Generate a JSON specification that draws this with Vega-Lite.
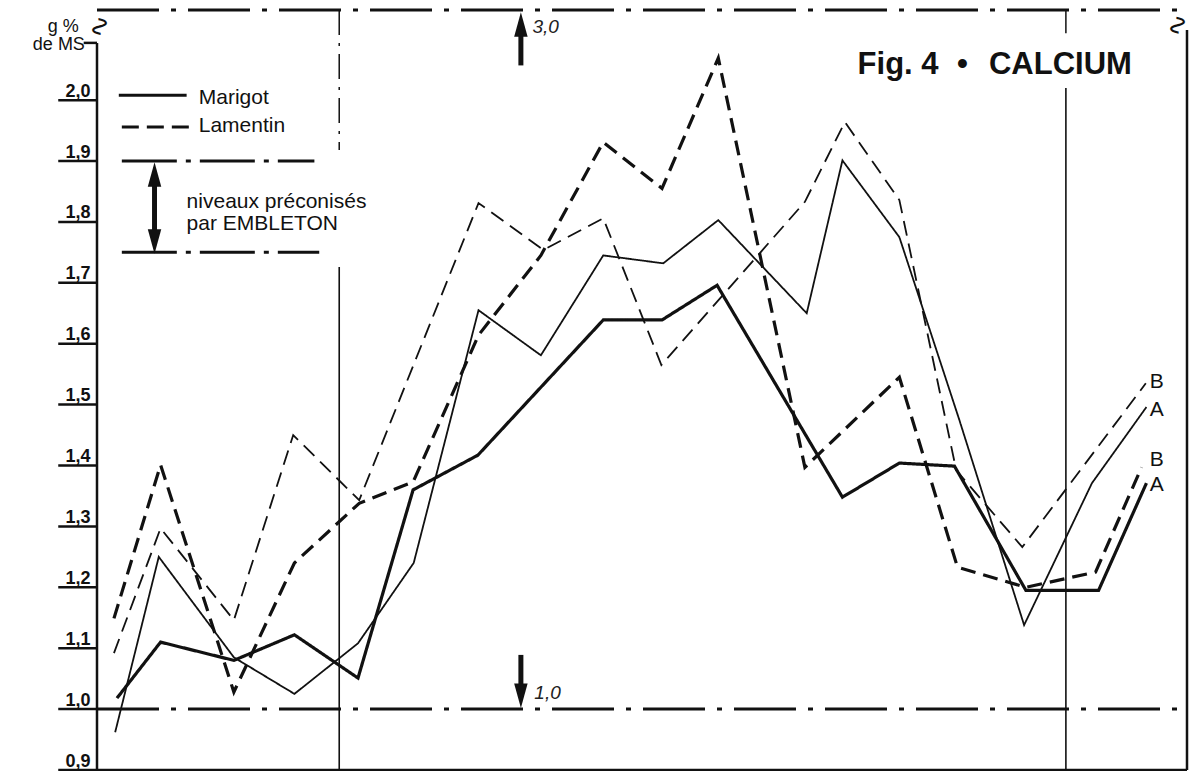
{
  "$schema": "https://vega.github.io/schema/vega-lite/v6.json",
  "width": 1090,
  "height": 760,
  "autosize": {"type": "none"},
  "padding": {"left": 97, "top": 10, "right": 5, "bottom": 1},
  "background": "white",
  "config": {"view": {"stroke": null}},
  "datasets": {
    "series": [
      {"serie": "Marigot épais", "site": "Marigot", "trait": "épais", "mois": -3.67, "valeur": 1.018},
      {"serie": "Marigot épais", "site": "Marigot", "trait": "épais", "mois": -2.95, "valeur": 1.110},
      {"serie": "Marigot épais", "site": "Marigot", "trait": "épais", "mois": -1.74, "valeur": 1.080},
      {"serie": "Marigot épais", "site": "Marigot", "trait": "épais", "mois": -0.74, "valeur": 1.122},
      {"serie": "Marigot épais", "site": "Marigot", "trait": "épais", "mois": 0.31, "valeur": 1.051},
      {"serie": "Marigot épais", "site": "Marigot", "trait": "épais", "mois": 1.22, "valeur": 1.360},
      {"serie": "Marigot épais", "site": "Marigot", "trait": "épais", "mois": 2.29, "valeur": 1.417},
      {"serie": "Marigot épais", "site": "Marigot", "trait": "épais", "mois": 4.36, "valeur": 1.639},
      {"serie": "Marigot épais", "site": "Marigot", "trait": "épais", "mois": 5.33, "valeur": 1.639},
      {"serie": "Marigot épais", "site": "Marigot", "trait": "épais", "mois": 6.24, "valeur": 1.696},
      {"serie": "Marigot épais", "site": "Marigot", "trait": "épais", "mois": 8.31, "valeur": 1.348},
      {"serie": "Marigot épais", "site": "Marigot", "trait": "épais", "mois": 9.25, "valeur": 1.404},
      {"serie": "Marigot épais", "site": "Marigot", "trait": "épais", "mois": 10.16, "valeur": 1.399},
      {"serie": "Marigot épais", "site": "Marigot", "trait": "épais", "mois": 11.34, "valeur": 1.195},
      {"serie": "Marigot épais", "site": "Marigot", "trait": "épais", "mois": 12.54, "valeur": 1.195},
      {"serie": "Marigot épais", "site": "Marigot", "trait": "épais", "mois": 13.33, "valeur": 1.371},

      {"serie": "Marigot fin", "site": "Marigot", "trait": "fin", "mois": -3.70, "valeur": 0.962},
      {"serie": "Marigot fin", "site": "Marigot", "trait": "fin", "mois": -2.98, "valeur": 1.250},
      {"serie": "Marigot fin", "site": "Marigot", "trait": "fin", "mois": -1.74, "valeur": 1.085},
      {"serie": "Marigot fin", "site": "Marigot", "trait": "fin", "mois": -0.74, "valeur": 1.025},
      {"serie": "Marigot fin", "site": "Marigot", "trait": "fin", "mois": 0.31, "valeur": 1.108},
      {"serie": "Marigot fin", "site": "Marigot", "trait": "fin", "mois": 1.23, "valeur": 1.240},
      {"serie": "Marigot fin", "site": "Marigot", "trait": "fin", "mois": 2.30, "valeur": 1.655},
      {"serie": "Marigot fin", "site": "Marigot", "trait": "fin", "mois": 3.33, "valeur": 1.581},
      {"serie": "Marigot fin", "site": "Marigot", "trait": "fin", "mois": 4.36, "valeur": 1.745},
      {"serie": "Marigot fin", "site": "Marigot", "trait": "fin", "mois": 5.35, "valeur": 1.732},
      {"serie": "Marigot fin", "site": "Marigot", "trait": "fin", "mois": 6.26, "valeur": 1.803},
      {"serie": "Marigot fin", "site": "Marigot", "trait": "fin", "mois": 7.72, "valeur": 1.650},
      {"serie": "Marigot fin", "site": "Marigot", "trait": "fin", "mois": 8.31, "valeur": 1.901},
      {"serie": "Marigot fin", "site": "Marigot", "trait": "fin", "mois": 9.25, "valeur": 1.775},
      {"serie": "Marigot fin", "site": "Marigot", "trait": "fin", "mois": 10.24, "valeur": 1.475},
      {"serie": "Marigot fin", "site": "Marigot", "trait": "fin", "mois": 11.31, "valeur": 1.138},
      {"serie": "Marigot fin", "site": "Marigot", "trait": "fin", "mois": 12.43, "valeur": 1.371},
      {"serie": "Marigot fin", "site": "Marigot", "trait": "fin", "mois": 13.33, "valeur": 1.496},

      {"serie": "Lamentin épais", "site": "Lamentin", "trait": "épais", "mois": -3.72, "valeur": 1.149},
      {"serie": "Lamentin épais", "site": "Lamentin", "trait": "épais", "mois": -2.95, "valeur": 1.401},
      {"serie": "Lamentin épais", "site": "Lamentin", "trait": "épais", "mois": -1.74, "valeur": 1.028},
      {"serie": "Lamentin épais", "site": "Lamentin", "trait": "épais", "mois": -0.74, "valeur": 1.240},
      {"serie": "Lamentin épais", "site": "Lamentin", "trait": "épais", "mois": 0.33, "valeur": 1.338},
      {"serie": "Lamentin épais", "site": "Lamentin", "trait": "épais", "mois": 1.22, "valeur": 1.373},
      {"serie": "Lamentin épais", "site": "Lamentin", "trait": "épais", "mois": 2.30, "valeur": 1.614},
      {"serie": "Lamentin épais", "site": "Lamentin", "trait": "épais", "mois": 3.33, "valeur": 1.745},
      {"serie": "Lamentin épais", "site": "Lamentin", "trait": "épais", "mois": 4.36, "valeur": 1.931},
      {"serie": "Lamentin épais", "site": "Lamentin", "trait": "épais", "mois": 5.33, "valeur": 1.855},
      {"serie": "Lamentin épais", "site": "Lamentin", "trait": "épais", "mois": 6.26, "valeur": 2.069},
      {"serie": "Lamentin épais", "site": "Lamentin", "trait": "épais", "mois": 7.69, "valeur": 1.397},
      {"serie": "Lamentin épais", "site": "Lamentin", "trait": "épais", "mois": 9.25, "valeur": 1.545},
      {"serie": "Lamentin épais", "site": "Lamentin", "trait": "épais", "mois": 10.21, "valeur": 1.233},
      {"serie": "Lamentin épais", "site": "Lamentin", "trait": "épais", "mois": 11.34, "valeur": 1.200},
      {"serie": "Lamentin épais", "site": "Lamentin", "trait": "épais", "mois": 12.49, "valeur": 1.225},
      {"serie": "Lamentin épais", "site": "Lamentin", "trait": "épais", "mois": 13.25, "valeur": 1.397},

      {"serie": "Lamentin fin", "site": "Lamentin", "trait": "fin", "mois": -3.72, "valeur": 1.092},
      {"serie": "Lamentin fin", "site": "Lamentin", "trait": "fin", "mois": -2.95, "valeur": 1.297},
      {"serie": "Lamentin fin", "site": "Lamentin", "trait": "fin", "mois": -1.74, "valeur": 1.146},
      {"serie": "Lamentin fin", "site": "Lamentin", "trait": "fin", "mois": -0.76, "valeur": 1.450},
      {"serie": "Lamentin fin", "site": "Lamentin", "trait": "fin", "mois": 0.33, "valeur": 1.343},
      {"serie": "Lamentin fin", "site": "Lamentin", "trait": "fin", "mois": 2.30, "valeur": 1.831},
      {"serie": "Lamentin fin", "site": "Lamentin", "trait": "fin", "mois": 3.37, "valeur": 1.754},
      {"serie": "Lamentin fin", "site": "Lamentin", "trait": "fin", "mois": 4.36, "valeur": 1.806},
      {"serie": "Lamentin fin", "site": "Lamentin", "trait": "fin", "mois": 5.32, "valeur": 1.565},
      {"serie": "Lamentin fin", "site": "Lamentin", "trait": "fin", "mois": 7.69, "valeur": 1.833},
      {"serie": "Lamentin fin", "site": "Lamentin", "trait": "fin", "mois": 8.35, "valeur": 1.964},
      {"serie": "Lamentin fin", "site": "Lamentin", "trait": "fin", "mois": 9.25, "valeur": 1.836},
      {"serie": "Lamentin fin", "site": "Lamentin", "trait": "fin", "mois": 10.19, "valeur": 1.392},
      {"serie": "Lamentin fin", "site": "Lamentin", "trait": "fin", "mois": 11.28, "valeur": 1.266},
      {"serie": "Lamentin fin", "site": "Lamentin", "trait": "fin", "mois": 13.32, "valeur": 1.535}
    ]
  },
  "encoding": {
    "x": {"field": "mois", "type": "quantitative", "scale": {"domain": [-4, 14], "nice": false, "zero": false}, "axis": null},
    "y": {
      "field": "valeur", "type": "quantitative",
      "scale": {"domain": [0.9, 2.148], "nice": false, "zero": false},
      "axis": {
        "values": [0.9, 1.0, 1.1, 1.2, 1.3, 1.4, 1.5, 1.6, 1.7, 1.8, 1.9, 2.0],
        "labelExpr": "replace(format(datum.value, '.1f'), '.', ',')",
        "title": null, "domain": false, "grid": false, "ticks": false,
        "labelAlign": "right", "labelBaseline": "alphabetic",
        "labelPadding": 7, "labelOffset": -4,
        "labelFont": "Liberation Sans", "labelFontSize": 18, "labelFontWeight": "bold",
        "labelColor": "#111", "labelBound": false, "labelFlush": false, "labelOverlap": false
      }
    }
  },
  "layer": [
    {
      "data": {"values": [
        {"valeur": 0.9, "mois": -4.64, "mois2": -4}, {"valeur": 1.0, "mois": -4.64, "mois2": -4},
        {"valeur": 1.1, "mois": -4.64, "mois2": -4}, {"valeur": 1.2, "mois": -4.64, "mois2": -4},
        {"valeur": 1.3, "mois": -4.64, "mois2": -4}, {"valeur": 1.4, "mois": -4.64, "mois2": -4},
        {"valeur": 1.5, "mois": -4.64, "mois2": -4}, {"valeur": 1.6, "mois": -4.64, "mois2": -4},
        {"valeur": 1.7, "mois": -4.64, "mois2": -4}, {"valeur": 1.8, "mois": -4.64, "mois2": -4},
        {"valeur": 1.9, "mois": -4.64, "mois2": -4}, {"valeur": 2.0, "mois": -4.64, "mois2": -4}
      ]},
      "mark": {"type": "rule", "strokeWidth": 2.5, "color": "#111"},
      "encoding": {"x2": {"field": "mois2"}}
    },
    {
      "data": {"values": [{"mois": -4, "mois2": 14, "valeur": 1.0}, {"mois": -4, "mois2": 14, "valeur": 2.148}]},
      "mark": {"type": "rule", "strokeDash": [62, 12, 5, 12], "strokeWidth": 3, "color": "#111"},
      "encoding": {"x2": {"field": "mois2"}}
    },
    {
      "data": {"values": [{"mois": -3.59, "mois2": -0.41, "valeur": 1.9}, {"mois": -3.59, "mois2": -0.33, "valeur": 1.75}]},
      "mark": {"type": "rule", "strokeDash": [55, 9, 5, 9], "strokeWidth": 3, "color": "#111"},
      "encoding": {"x2": {"field": "mois2"}}
    },
    {
      "data": {"values": [{"mois": 0, "valeur": 2.148, "valeur2": 1.918}, {"mois": 12, "valeur": 2.148, "valeur2": 2.11}]},
      "mark": {"type": "rule", "strokeDash": [25, 8, 3, 8], "strokeWidth": 1.5, "color": "#111"},
      "encoding": {"y2": {"field": "valeur2"}}
    },
    {
      "data": {"values": [{"mois": 0, "valeur": 1.726, "valeur2": 0.9}, {"mois": 12, "valeur": 2.02, "valeur2": 0.9}]},
      "mark": {"type": "rule", "strokeWidth": 1.6, "color": "#111"},
      "encoding": {"y2": {"field": "valeur2"}}
    },
    {
      "data": {"values": [{"mois": -4, "valeur": 2.094, "valeur2": 0.9}, {"mois": 14, "valeur": 2.115, "valeur2": 0.9}]},
      "mark": {"type": "rule", "strokeWidth": 2.5, "color": "#111"},
      "encoding": {"y2": {"field": "valeur2"}}
    },
    {
      "data": {"values": [{"mois": -4, "mois2": 14, "valeur": 0.9}, {"mois": -4.22, "mois2": -4, "valeur": 2.094}]},
      "mark": {"type": "rule", "strokeWidth": 2.5, "color": "#111"},
      "encoding": {"x2": {"field": "mois2"}}
    },
    {
      "data": {"name": "series"},
      "mark": {"type": "line", "color": "#111", "strokeJoin": "miter", "strokeMiterLimit": 4, "strokeCap": "butt"},
      "encoding": {
        "detail": {"field": "serie"},
        "strokeDash": {"field": "site", "type": "nominal", "scale": {"domain": ["Marigot", "Lamentin"], "range": [[1, 0], [15, 8]]}, "legend": null},
        "strokeWidth": {"field": "trait", "type": "ordinal", "scale": {"domain": ["épais", "fin"], "range": [3.2, 1.8]}, "legend": null}
      }
    },
    {
      "data": {"values": [{"mois": -3.64, "mois2": -2.52, "valeur": 2.008}]},
      "mark": {"type": "rule", "strokeWidth": 3, "color": "#111"},
      "encoding": {"x2": {"field": "mois2"}}
    },
    {
      "data": {"values": [{"mois": -3.59, "mois2": -2.40, "valeur": 1.956}]},
      "mark": {"type": "rule", "strokeWidth": 3, "strokeDash": [17, 8], "color": "#111"},
      "encoding": {"x2": {"field": "mois2"}}
    },
    {
      "data": {"values": [{"mois": 3.0, "valeur": 2.057, "valeur2": 2.11}, {"mois": 3.0, "valeur": 1.089, "valeur2": 1.035}, {"mois": -3.05, "valeur": 1.86, "valeur2": 1.785}]},
      "mark": {"type": "rule", "strokeWidth": 5, "color": "#111"},
      "encoding": {"y2": {"field": "valeur2"}}
    },
    {
      "data": {"values": [{"mois": 3.0, "valeur": 2.124}, {"mois": -3.05, "valeur": 1.878}]},
      "mark": {"type": "point", "shape": "M0,-1L0.55,1L-0.55,1Z", "size": 600, "filled": true, "opacity": 1, "color": "#111", "strokeWidth": 0}
    },
    {
      "data": {"values": [{"mois": 3.0, "valeur": 1.022}, {"mois": -3.05, "valeur": 1.768}]},
      "mark": {"type": "point", "shape": "M0,1L0.55,-1L-0.55,-1Z", "size": 600, "filled": true, "opacity": 1, "color": "#111", "strokeWidth": 0}
    },
    {
      "data": {"values": [
        {"mois": -2.32, "valeur": 1.994, "texte": "Marigot"},
        {"mois": -2.32, "valeur": 1.948, "texte": "Lamentin"},
        {"mois": -2.52, "valeur": 1.823, "texte": "niveaux préconisés"},
        {"mois": -2.52, "valeur": 1.787, "texte": "par EMBLETON"}
      ]},
      "mark": {"type": "text", "align": "left", "baseline": "alphabetic", "font": "Liberation Sans", "fontSize": 21, "color": "#111"},
      "encoding": {"text": {"field": "texte"}}
    },
    {
      "data": {"values": [
        {"mois": -4.3, "valeur": 2.112, "texte": "g %"},
        {"mois": -4.2, "valeur": 2.082, "texte": "de MS"}
      ]},
      "mark": {"type": "text", "align": "right", "baseline": "alphabetic", "font": "Liberation Sans", "fontSize": 18, "color": "#111"},
      "encoding": {"text": {"field": "texte"}}
    },
    {
      "data": {"values": [
        {"mois": 13.5, "valeur": 1.537, "texte": "B"},
        {"mois": 13.5, "valeur": 1.491, "texte": "A"},
        {"mois": 13.5, "valeur": 1.409, "texte": "B"},
        {"mois": 13.5, "valeur": 1.368, "texte": "A"}
      ]},
      "mark": {"type": "text", "align": "center", "baseline": "middle", "font": "Liberation Sans", "fontSize": 21, "color": "#111"},
      "encoding": {"text": {"field": "texte"}}
    },
    {
      "data": {"values": [
        {"mois": 3.41, "valeur": 2.120, "texte": "3,0"},
        {"mois": 3.44, "valeur": 1.026, "texte": "1,0"}
      ]},
      "mark": {"type": "text", "align": "center", "baseline": "middle", "font": "Liberation Sans", "fontSize": 19, "fontStyle": "italic", "color": "#222"},
      "encoding": {"text": {"field": "texte"}}
    },
    {
      "data": {"values": [
        {"mois": 8.56, "valeur": 2.043, "texte": "Fig. 4", "al": "l"},
        {"mois": 10.29, "valeur": 2.043, "texte": "•", "al": "c"},
        {"mois": 13.09, "valeur": 2.043, "texte": "CALCIUM", "al": "r"}
      ]},
      "mark": {"type": "text", "baseline": "alphabetic", "font": "Liberation Sans", "fontSize": 31, "fontWeight": "bold", "color": "#111", "align": {"expr": "datum.al == 'l' ? 'left' : datum.al == 'c' ? 'center' : 'right'"}},
      "encoding": {"text": {"field": "texte"}}
    },
    {
      "data": {"values": [
        {"mois": -3.96, "valeur": 2.121, "texte": "∿"},
        {"mois": 13.84, "valeur": 2.123, "texte": "∿"}
      ]},
      "mark": {"type": "text", "align": "center", "baseline": "middle", "font": "DejaVu Sans", "fontSize": 27, "angle": 90, "color": "#111"},
      "encoding": {"text": {"field": "texte"}}
    }
  ]
}
